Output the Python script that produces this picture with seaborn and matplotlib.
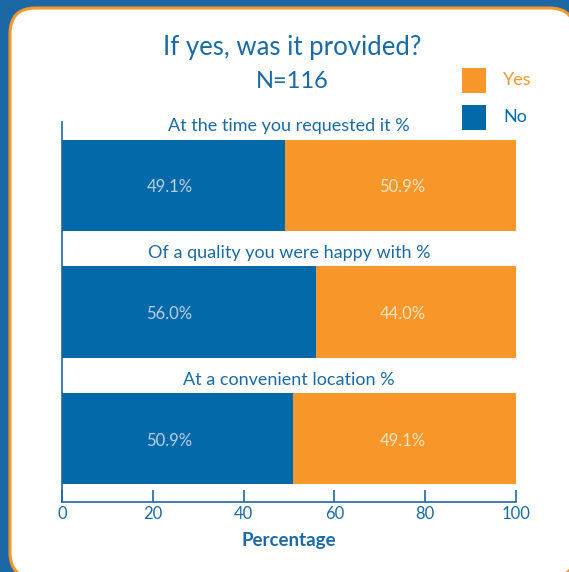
import matplotlib
matplotlib.use("Agg")
import matplotlib.pyplot as plt
from matplotlib.patches import FancyBboxPatch, Rectangle
import seaborn as sns
import pandas as pd

# Survey results (percent of respondents)
categories = [
    "At the time you requested it %",
    "Of a quality you were happy with %",
    "At a convenient location %",
]
no_pct = [49.1, 56.0, 50.9]
yes_pct = [50.9, 44.0, 49.1]
x_ticks = [0, 20, 40, 60, 80, 100]

BLUE = "#0369a9"
TEXT_BLUE = "#1a6aa5"
ORANGE = "#f7972a"
FRAME = "#1b68a4"

sns.set_theme(style="white")
plt.rcParams["font.family"] = ["Lato", "DejaVu Sans"]

df = pd.DataFrame({"category": categories, "No": no_pct, "Yes": yes_pct})
df["total"] = df["No"] + df["Yes"]

W, H = 569, 572
fig = plt.figure(figsize=(W / 100, H / 100), dpi=100)
fig.patch.set_facecolor(FRAME)

# White rounded panel with an orange rim (runs off the right and bottom edges)
panel = FancyBboxPatch((10 / W, -6 / H), 565 / W, (H - 8 + 6) / H,
                       boxstyle="round,pad=0,rounding_size=0.045",
                       transform=fig.transFigure, facecolor="white",
                       edgecolor=ORANGE, linewidth=2.2, zorder=-10)
fig.add_artist(panel)

ax = fig.add_axes([62 / W, 1 - 502 / H, 454 / W, 380 / H])
ax.set_facecolor("none")

# Stacked bars: full (No + Yes) in orange, then the No share in blue on top
sns.barplot(data=df, x="total", y="category", color=ORANGE, orient="h",
            width=0.72, saturation=1, ax=ax, order=categories,
            edgecolor="none", linewidth=0)
sns.barplot(data=df, x="No", y="category", color=BLUE, orient="h",
            width=0.72, saturation=1, ax=ax, order=categories,
            edgecolor="none", linewidth=0)

# Percent labels sit in fixed columns within the blue and orange parts
for i, (n, y) in enumerate(zip(no_pct, yes_pct)):
    ax.text(23.7, i + 0.015, f"{n:.1f}%", ha="center", va="center",
            color="#b9d0e6", fontsize=12)
    ax.text(75.0, i + 0.015, f"{y:.1f}%", ha="center", va="center",
            color="#fde3c4", fontsize=12)
    ax.text(50, i - 0.465, categories[i], ha="center", va="center",
            color=TEXT_BLUE, fontsize=13)

ax.set_xlim(0, 100)
ax.set_ylim(2.5, -0.5)
ax.set_xticks(x_ticks)
ax.set_xticklabels([str(t) for t in x_ticks])
ax.set_yticks([])
ax.set_ylabel("")
ax.set_xlabel("Percentage", color=TEXT_BLUE, fontsize=13.5,
              fontweight="bold", labelpad=7)
ax.tick_params(axis="x", direction="in", length=9, width=1.2,
               colors=TEXT_BLUE, labelsize=12, pad=3, bottom=True)
for side in ("top", "right"):
    ax.spines[side].set_visible(False)
for side in ("left", "bottom"):
    ax.spines[side].set_visible(True)
    ax.spines[side].set_color(TEXT_BLUE)
    ax.spines[side].set_linewidth(1.2)

fig.text(292 / W, 1 - 47 / H, "If yes, was it provided?",
         ha="center", va="center", color=TEXT_BLUE, fontsize=18.5)
fig.text(292 / W, 1 - 82 / H, "N=116",
         ha="center", va="center", color=TEXT_BLUE, fontsize=17)

# Legend swatches
for y0, lab, col in [(68, "Yes", ORANGE), (105, "No", BLUE)]:
    fig.add_artist(Rectangle((462 / W, 1 - (y0 + 25) / H),
                             24 / W, 25 / H,
                             transform=fig.transFigure,
                             facecolor=col, edgecolor="none"))
    fig.text(503 / W, 1 - (y0 + 12) / H, lab, ha="left", va="center",
             color=col, fontsize=13)

fig.savefig("out.png", dpi=100, facecolor=fig.get_facecolor())
